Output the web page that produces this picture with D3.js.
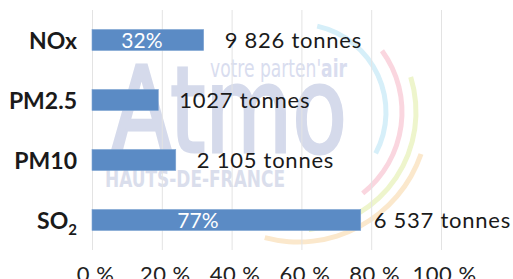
<!DOCTYPE html>
<html><head><meta charset="utf-8">
<script src="https://cdn.jsdelivr.net/npm/d3@7"></script>
<style>html,body{margin:0;padding:0;background:#fff;overflow:hidden}svg{display:block}</style>
</head><body><svg id="chart" width="513" height="279"></svg>
<script>
const categories = ["NOx", "PM2.5", "PM10", "SO2"];
const shares = [32, 19, 24, 77];
const pctLabels = ["32%", "", "", "77%"];
const tonnesLabels = ["9 826 tonnes", "1027 tonnes", "2 105 tonnes", "6 537 tonnes"];
const xTicks = [0, 20, 40, 60, 80, 100];
const xTickLabels = ["0 %", "20 %", "40 %", "60 %", "80 %", "100 %"];

const svg = d3.select("#chart");
const font = "Lato, 'Noto Sans', sans-serif";
const W = 513;

const x = d3.scaleLinear().domain([0, 100]).range([92, 441]);
const y = d3.scaleBand().domain(categories).range([10, 250]).paddingInner(0.65).paddingOuter(0.325);

// watermark
const wm = svg.append("g");
const cx = 298, cy = 112;
const arcs = [
  {r: 88, a0: 0.22, a1: 2.06, c: "#d6eff9"},
  {r: 104, a0: 0.94, a1: 2.47, c: "#fad6df"},
  {r: 118, a0: 1.27, a1: 3.05, c: "#eef5cc"},
  {r: 130, a0: 1.9, a1: 3.4, c: "#fbe8cc"}
];
arcs.forEach(a => {
  wm.append("path")
    .attr("transform", `translate(${cx},${cy})`)
    .attr("d", d3.arc()({innerRadius: a.r - 2.5, outerRadius: a.r + 2.5, startAngle: a.a0, endAngle: a.a1, cornerRadius: 2.5}))
    .attr("fill", a.c);
});
wm.append("text").attr("x", 111).attr("y", 152)
  .attr("font-family", "'Liberation Sans Narrow','DejaVu Sans Condensed',sans-serif")
  .attr("font-size", 120).attr("fill", "#d5daeb").attr("stroke", "#d5daeb").attr("stroke-width", 3)
  .attr("textLength", 236).attr("lengthAdjust", "spacingAndGlyphs").text("Atmo");
const vp = wm.append("text").attr("x", 210).attr("y", 77)
  .attr("font-family", "'Liberation Sans Narrow','DejaVu Sans Condensed',sans-serif")
  .attr("font-size", 24).attr("fill", "#d9ddef")
  .attr("textLength", 137).attr("lengthAdjust", "spacingAndGlyphs");
vp.append("tspan").text("votre parten'");
vp.append("tspan").attr("font-weight", "bold").text("air");
wm.append("text").attr("x", 105).attr("y", 187)
  .attr("font-family", "'Liberation Sans Narrow','DejaVu Sans Condensed',sans-serif")
  .attr("font-size", 23).attr("font-weight", "bold").attr("fill", "#dadeec")
  .attr("textLength", 180).attr("lengthAdjust", "spacingAndGlyphs").text("HAUTS-DE-FRANCE");

// gridlines
svg.append("g").selectAll("line").data(xTicks).join("line")
  .attr("x1", d => x(d) + 0.5).attr("x2", d => x(d) + 0.5)
  .attr("y1", 10).attr("y2", 250)
  .attr("stroke", "#e3e3e3").attr("stroke-width", 1);

// x axis labels
const xAxis = d3.axisBottom(x).tickValues(xTicks).tickSize(0).tickPadding(0)
  .tickFormat((d, i) => xTickLabels[i]);
const gx = svg.append("g").attr("transform", "translate(0,266)").call(xAxis);
gx.select(".domain").remove();
gx.selectAll("text").attr("font-family", font).attr("font-size", 22).attr("fill", "#222")
  .attr("dy", "0.71em").attr("dx", 3).attr("letter-spacing", 0.5);

// bars
const d = categories.map((c, i) => ({c, v: shares[i], p: pctLabels[i], t: tonnesLabels[i]}));
svg.append("g").selectAll("rect").data(d).join("rect")
  .attr("x", x(0)).attr("y", r => y(r.c))
  .attr("width", r => x(r.v) - x(0)).attr("height", y.bandwidth())
  .attr("fill", "#5b8bc5").attr("stroke", "#7ea3d3").attr("stroke-width", 0.6);

// percent labels
svg.append("g").selectAll("text").data(d.filter(r => r.p)).join("text")
  .attr("x", r => x(r.v * 0.357) + 10).attr("y", r => y(r.c) + y.bandwidth() / 2 + 8)
  .attr("text-anchor", "middle").attr("font-family", font).attr("font-size", 21)
  .attr("fill", "#fff").text(r => r.p);

// tonnes labels
svg.append("g").selectAll("text").data(d).join("text")
  .attr("x", r => x(r.v) + 21).attr("y", r => y(r.c) + y.bandwidth() / 2 + 8)
  .attr("font-family", font).attr("font-size", 22).attr("letter-spacing", 0.75)
  .attr("fill", "#1a1a1a").text(r => r.t)
  .each(function() {
    const t = d3.select(this);
    const len = this.getComputedTextLength();
    const x0 = +t.attr("x");
    if (x0 + len > W - 2) t.attr("x", W - 2 - len);
  });

// category labels
const cl = svg.append("g").selectAll("text").data(d).join("text")
  .attr("x", 77).attr("y", r => y(r.c) + y.bandwidth() / 2 + 9)
  .attr("text-anchor", "end").attr("font-family", font).attr("font-size", 23)
  .attr("font-weight", "bold").attr("fill", "#1a1a1a");
cl.each(function(r) {
  const t = d3.select(this);
  if (r.c === "SO2") {
    t.append("tspan").text("SO");
    t.append("tspan").attr("font-size", 15).attr("dy", 6).text("2");
  } else {
    t.text(r.c);
  }
});
</script></body></html>
